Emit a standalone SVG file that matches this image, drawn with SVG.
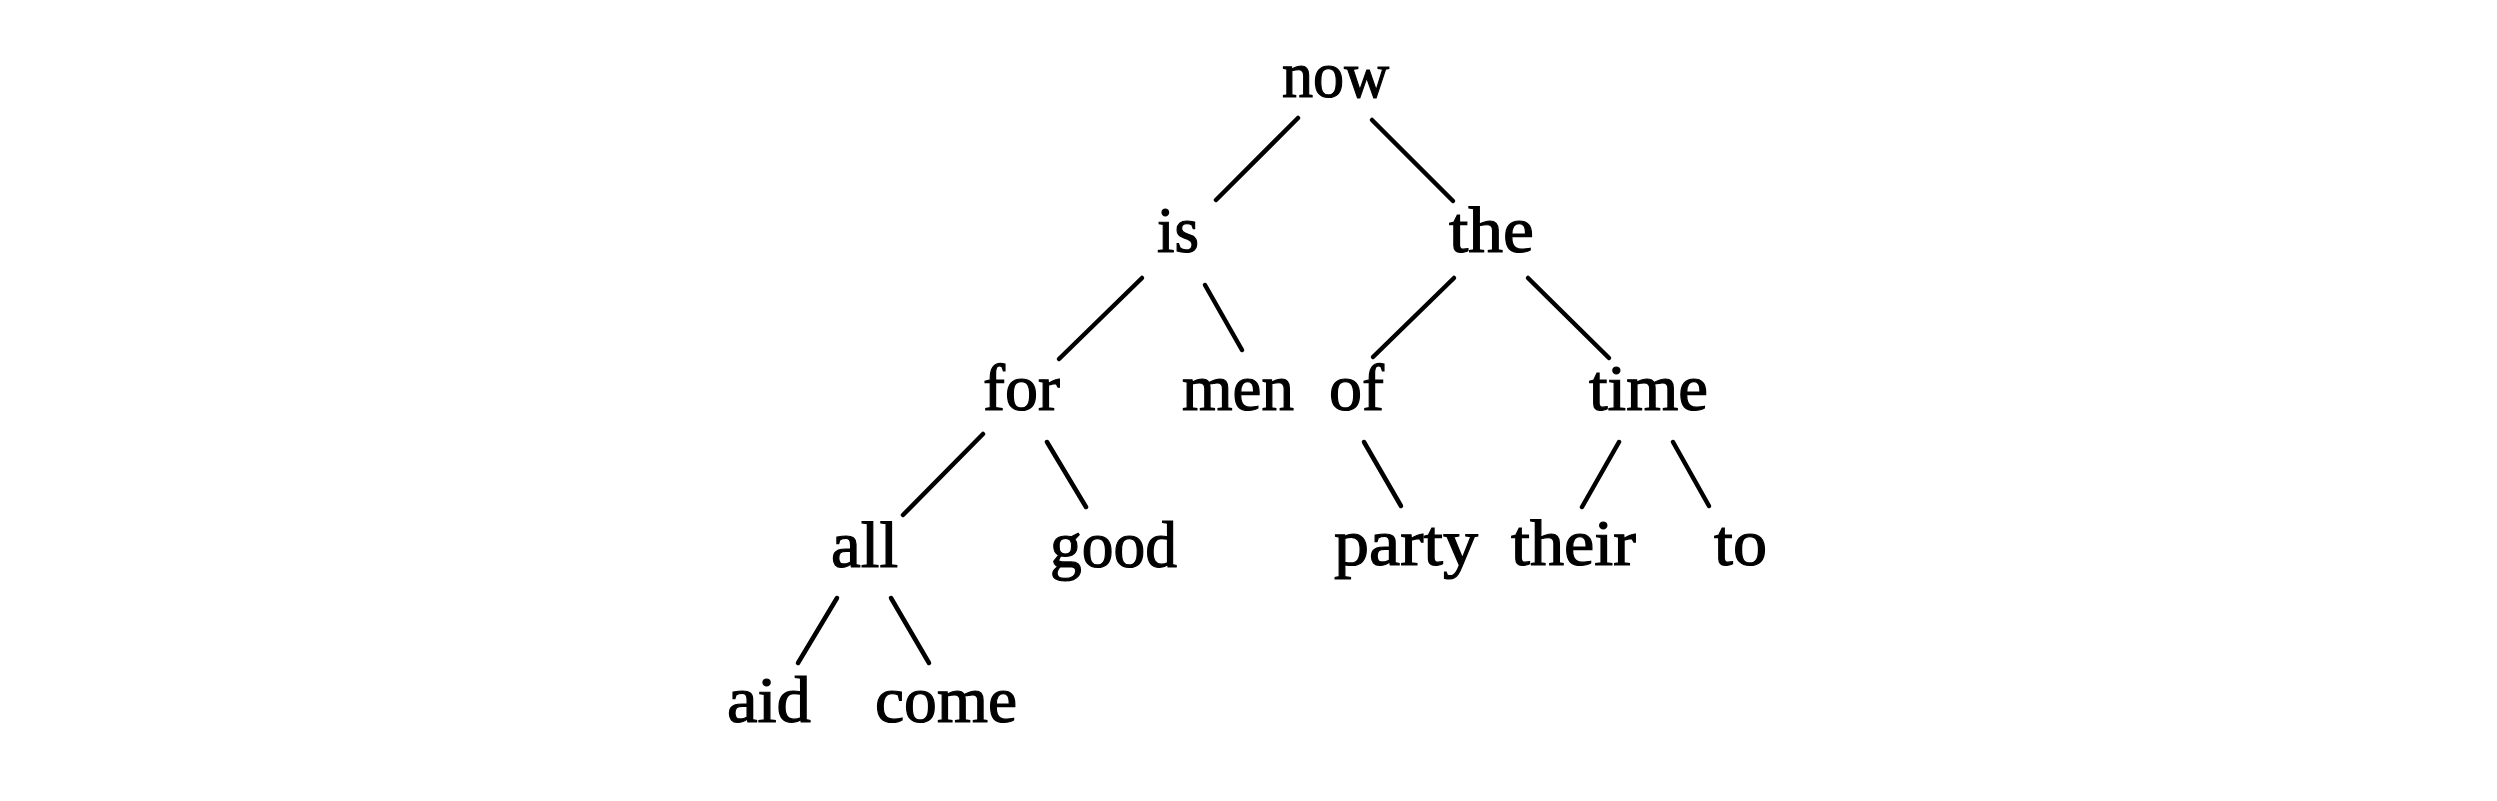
<svg xmlns="http://www.w3.org/2000/svg" width="2497" height="801" viewBox="0 0 2497 801">
<style>
.w{font-family:"Liberation Serif","Times New Roman",serif;font-size:66px;fill:#000;stroke:#000;stroke-width:1.2px;}
.e{stroke:#000;stroke-width:4.5;stroke-linecap:round;fill:none;}
</style>
<rect width="2497" height="801" fill="#fff"/>
<g id="connectors">
<line class="e" x1="1298" y1="118" x2="1216" y2="200"/>
<line class="e" x1="1372" y1="120" x2="1453" y2="201"/>
<line class="e" x1="1142" y1="278" x2="1059" y2="359"/>
<line class="e" x1="1205" y1="285" x2="1242" y2="350"/>
<line class="e" x1="983" y1="434" x2="903" y2="515"/>
<line class="e" x1="1047" y1="442" x2="1086" y2="507"/>
<line class="e" x1="837" y1="598" x2="798" y2="663"/>
<line class="e" x1="891" y1="598" x2="929" y2="663"/>
<line class="e" x1="1454" y1="278" x2="1373" y2="357"/>
<line class="e" x1="1528" y1="278" x2="1609" y2="358"/>
<line class="e" x1="1364" y1="442" x2="1401" y2="506"/>
<line class="e" x1="1619" y1="442" x2="1582" y2="507"/>
<line class="e" x1="1673" y1="442" x2="1709" y2="506"/>
</g>
<g id="n-now"><text class="w" x="1282" y="97" textLength="107" lengthAdjust="spacingAndGlyphs">now</text></g>
<g id="n-is"><text class="w" x="1157" y="252" textLength="42" lengthAdjust="spacingAndGlyphs">is</text></g>
<g id="n-the"><text class="w" x="1449" y="252" textLength="85" lengthAdjust="spacingAndGlyphs">the</text></g>
<g id="n-for"><text class="w" x="983" y="410" textLength="77" lengthAdjust="spacingAndGlyphs">for</text></g>
<g id="n-men"><text class="w" x="1182" y="410" textLength="112" lengthAdjust="spacingAndGlyphs">men</text></g>
<g id="n-of"><text class="w" x="1329" y="410" textLength="55" lengthAdjust="spacingAndGlyphs">of</text></g>
<g id="n-time"><text class="w" x="1589" y="410" textLength="119" lengthAdjust="spacingAndGlyphs">time</text></g>
<g id="n-all"><text class="w" x="831" y="567" textLength="67" lengthAdjust="spacingAndGlyphs">all</text></g>
<g id="n-good"><text class="w" x="1050" y="567" textLength="127" lengthAdjust="spacingAndGlyphs">good</text></g>
<g id="n-party"><text class="w" x="1334" y="565" textLength="144" lengthAdjust="spacingAndGlyphs">party</text></g>
<g id="n-their"><text class="w" x="1511" y="565" textLength="125" lengthAdjust="spacingAndGlyphs">their</text></g>
<g id="n-to"><text class="w" x="1714" y="565" textLength="53" lengthAdjust="spacingAndGlyphs">to</text></g>
<g id="n-aid"><text class="w" x="727" y="722" textLength="84" lengthAdjust="spacingAndGlyphs">aid</text></g>
<g id="n-come"><text class="w" x="875" y="722" textLength="142" lengthAdjust="spacingAndGlyphs">come</text></g>
</svg>
